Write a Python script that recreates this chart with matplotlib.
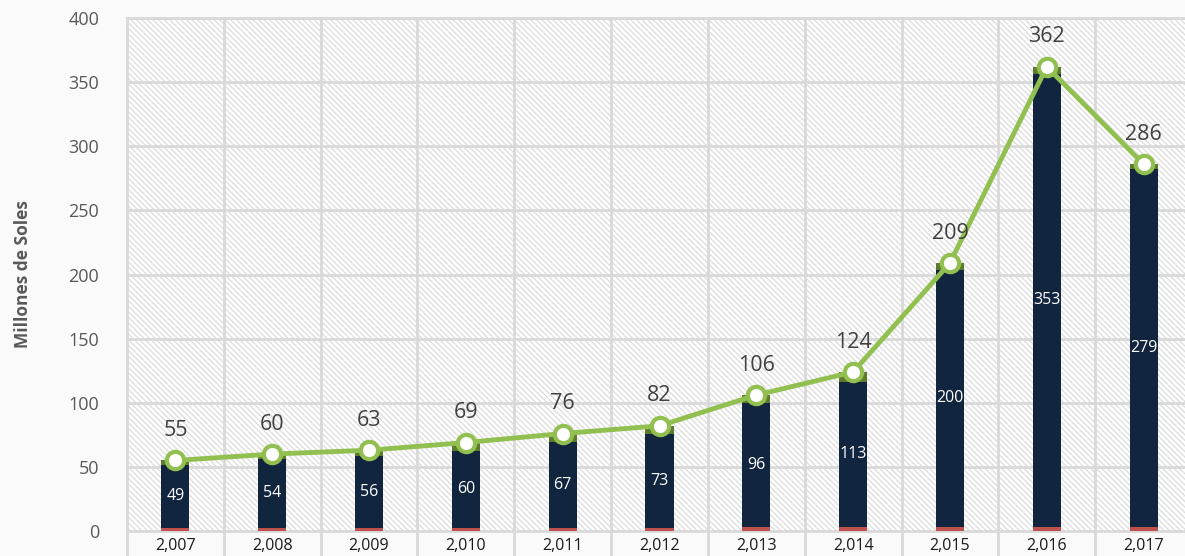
import matplotlib
matplotlib.use("Agg")
import matplotlib.pyplot as plt
from matplotlib.patches import Rectangle
import numpy as np

years = ["2,007", "2,008", "2,009", "2,010", "2,011", "2,012",
         "2,013", "2,014", "2,015", "2,016", "2,017"]
red_vals = [2.5, 2.5, 2.5, 2.5, 2.5, 2.5, 3.5, 3.5, 3.5, 3.5, 3.5]
navy_vals = [49, 54, 56, 60, 67, 73, 96, 113, 200, 353, 279]
green_vals = [3.5, 3.5, 4.5, 6.5, 6.5, 6.5, 6.5, 7.5, 5.5, 5.5, 3.5]
totals = [55, 60, 63, 69, 76, 82, 106, 124, 209, 362, 286]
yticks = [0, 50, 100, 150, 200, 250, 300, 350, 400]

plt.rcParams['font.family'] = ['Open Sans', 'DejaVu Sans']
plt.rcParams['hatch.linewidth'] = 0.9
plt.rcParams['hatch.color'] = '#dcdcdc'

W, H = 1185, 556
fig = plt.figure(figsize=(W / 100, H / 100), dpi=100, facecolor='#fafafa')
left_px, right_px, top_px, bot_px = 127, 1192, 18, 531
ax = fig.add_axes([left_px / W, 1 - bot_px / H, (right_px - left_px) / W, (bot_px - top_px) / H])
ax.set_facecolor('white')
ax.add_patch(Rectangle((0, 0), 1, 1, transform=ax.transAxes, facecolor='white',
                       edgecolor='#dcdcdc', hatch='\\' * 6, linewidth=0, zorder=0))

x = np.arange(len(years))
ax.set_xlim(-0.5, len(years) - 0.5)
ax.set_ylim(0, 400)

# grid
for yv in yticks[1:]:
    ax.axhline(yv, color='#d9d9d9', lw=2, zorder=1)
for b in np.arange(-0.5, len(years) + 0.5, 1):
    ax.plot([b, b], [-20, 400], color='#d9d9d9', lw=2, zorder=1, clip_on=False)
ax.plot([-0.5, len(years) - 0.5], [0, 0], color='#d9d9d9', lw=2, zorder=1, clip_on=False)
ax.plot([-0.5, len(years) - 0.5], [400, 400], color='#d9d9d9', lw=2, zorder=1, clip_on=False)

w = 0.29
red = np.array(red_vals)
navy = np.array(navy_vals)
green = np.array(green_vals)
ax.bar(x, red, w, color='#c0504d', zorder=2)
ax.bar(x, navy, w, bottom=red, color='#12253f', zorder=2)
ax.bar(x, green, w, bottom=red + navy, color='#5e7a2c', zorder=2)

ax.plot(x, totals, color='#92c050', lw=3.5, marker='o', markersize=12.5,
        markerfacecolor='white', markeredgecolor='#92c050', markeredgewidth=3, zorder=4)

for xi, t in zip(x, totals):
    ax.annotate(str(t), (xi, t), xytext=(0, 14), textcoords='offset points',
                ha='center', va='bottom', fontsize=15.5, color='#404040', zorder=5)
for xi, r, n in zip(x, red, navy):
    ax.text(xi, r + n / 2, str(n), ha='center', va='center', fontsize=11.5,
            color='white', zorder=5)

for s in ax.spines.values():
    s.set_visible(False)
ax.set_xticks(x)
ax.set_xticklabels(years, fontsize=11.5, color='#1a1a1a')
ax.tick_params(axis='x', length=0, pad=5)
ax.set_yticks(yticks)
ax.set_yticklabels([str(v) for v in yticks], fontsize=13, color='#595959')
ax.tick_params(axis='y', length=0, pad=20)
ax.set_ylabel('Millones de Soles', fontsize=12.5, fontweight='bold', color='#595959', labelpad=26)

fig.savefig('out.png', dpi=100, facecolor=fig.get_facecolor())
